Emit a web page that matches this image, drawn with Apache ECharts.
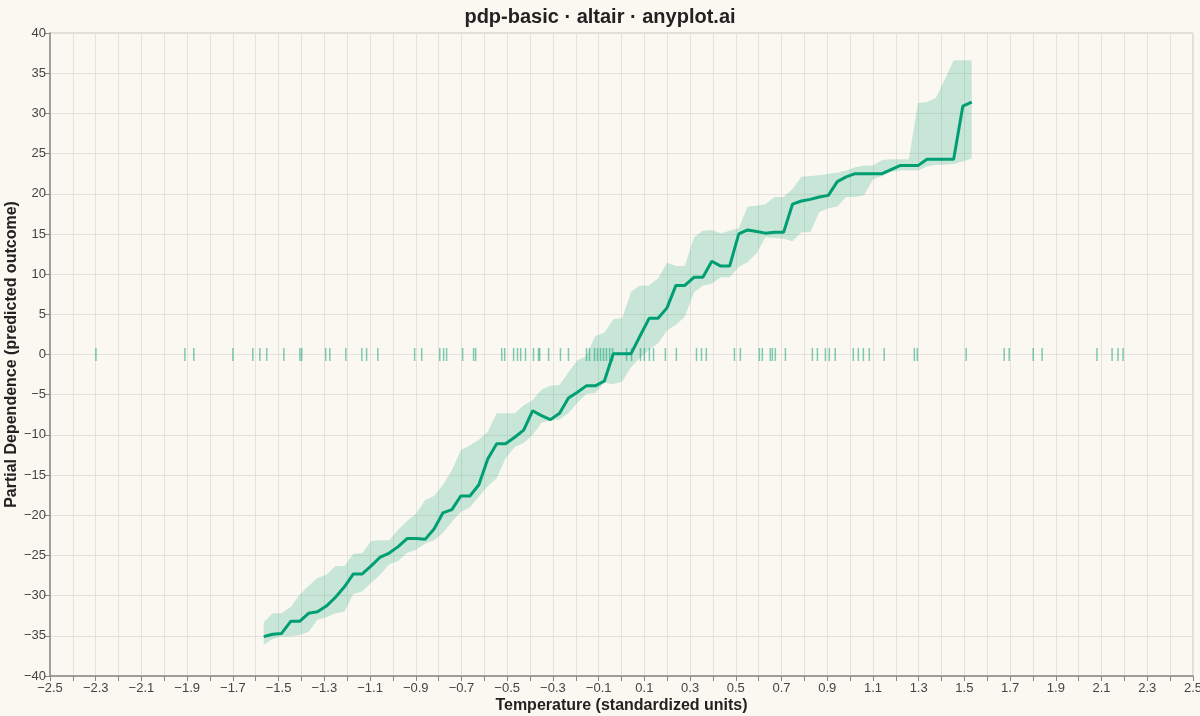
<!DOCTYPE html>
<html><head><meta charset="utf-8">
<script src="https://cdn.jsdelivr.net/npm/echarts@6/dist/echarts.min.js"></script>
<style>html,body{margin:0;padding:0;background:#FAF8F1}#c{width:1200px;height:716px}</style>
</head><body><div id="c"></div>
<script>
const gridX = [-1.565,-1.526,-1.487,-1.447,-1.408,-1.369,-1.330,-1.291,-1.251,-1.212,-1.173,-1.134,-1.095,-1.055,-1.016,-0.977,-0.938,-0.899,-0.859,-0.820,-0.781,-0.742,-0.703,-0.663,-0.624,-0.585,-0.546,-0.507,-0.467,-0.428,-0.389,-0.350,-0.311,-0.271,-0.232,-0.193,-0.154,-0.115,-0.075,-0.036,0.003,0.042,0.081,0.121,0.160,0.199,0.238,0.277,0.317,0.356,0.395,0.434,0.473,0.513,0.552,0.591,0.630,0.669,0.709,0.748,0.787,0.826,0.865,0.905,0.944,0.983,1.022,1.061,1.101,1.140,1.179,1.218,1.257,1.297,1.336,1.375,1.414,1.453,1.493,1.532];
const pdMean = [-35.1,-34.8,-34.7,-33.2,-33.2,-32.2,-32.0,-31.3,-30.2,-28.9,-27.3,-27.3,-26.3,-25.2,-24.7,-23.9,-22.9,-22.9,-23.0,-21.7,-19.7,-19.3,-17.6,-17.6,-16.2,-13.0,-11.1,-11.1,-10.3,-9.4,-7.0,-7.6,-8.1,-7.3,-5.4,-4.7,-3.9,-3.9,-3.3,0.1,0.1,0.1,2.3,4.5,4.5,5.8,8.6,8.6,9.6,9.6,11.6,11.0,11.0,15.0,15.5,15.3,15.1,15.2,15.2,18.7,19.1,19.3,19.6,19.8,21.5,22.1,22.5,22.5,22.5,22.5,23.0,23.5,23.5,23.5,24.3,24.3,24.3,24.3,30.9,31.4];
const pdUpper = [-33.3,-32.2,-32.2,-31.4,-29.9,-28.8,-27.8,-27.4,-26.3,-26.3,-24.8,-24.7,-23.2,-23.1,-23.1,-21.8,-20.7,-19.8,-18.1,-17.6,-16.2,-14.4,-11.9,-11.3,-10.6,-9.6,-7.3,-7.3,-7.3,-6.3,-5.7,-4.4,-3.9,-3.8,-2.2,-0.7,-0.2,2.3,2.7,4.4,4.5,7.8,8.6,8.6,9.5,11.4,11.0,11.0,14.6,15.4,15.5,15.1,15.4,15.7,18.4,18.5,18.7,19.6,19.6,20.6,22.1,22.2,22.3,22.5,22.6,22.9,23.3,23.5,23.5,24.2,24.3,24.3,24.3,31.3,31.4,31.9,34.2,36.6,36.6,36.6];
const pdLower = [-36.1,-35.4,-35.1,-35.1,-34.9,-34.5,-33.0,-32.7,-32.2,-32.0,-29.8,-29.5,-28.4,-27.4,-26.1,-25.7,-24.7,-24.3,-23.5,-23.1,-22.2,-20.8,-19.6,-19.0,-17.7,-16.4,-15.4,-12.9,-11.5,-11.0,-10.0,-8.5,-8.2,-8.1,-7.3,-6.0,-4.9,-4.8,-3.5,-3.7,-3.4,-1.6,-0.4,0.6,1.4,3.0,3.7,4.7,7.7,8.6,8.8,9.6,9.6,10.9,11.5,12.6,14.6,14.5,14.4,14.1,15.2,15.2,17.7,18.2,18.4,19.6,19.6,19.8,21.8,22.2,22.7,22.9,22.9,22.9,23.4,23.6,23.6,23.7,24.0,24.4];
const rugX = [-2.299,-1.910,-1.871,-1.700,-1.613,-1.582,-1.552,-1.477,-1.407,-1.399,-1.294,-1.276,-1.206,-1.136,-1.115,-1.066,-0.905,-0.874,-0.795,-0.778,-0.765,-0.695,-0.647,-0.638,-0.524,-0.511,-0.472,-0.455,-0.441,-0.420,-0.385,-0.363,-0.358,-0.319,-0.267,-0.232,-0.153,-0.140,-0.118,-0.105,-0.092,-0.079,-0.066,-0.052,-0.039,0.022,0.044,0.083,0.100,0.122,0.140,0.192,0.240,0.328,0.350,0.371,0.494,0.520,0.603,0.616,0.651,0.660,0.673,0.717,0.835,0.857,0.892,0.909,0.935,1.014,1.036,1.058,1.084,1.149,1.281,1.294,1.508,1.674,1.696,1.801,1.840,2.080,2.146,2.172,2.194];
const titleText = 'pdp-basic · altair · anyplot.ai';
const xName = 'Temperature (standardized units)';
const yName = 'Partial Dependence (predicted outcome)';

const green = '#009E73';
const fmt = v => (v < 0 ? '\u2212' : '') + Math.abs(v).toFixed(1);
const bandData = gridX.map((x, i) => [x, pdLower[i], pdUpper[i]]);
const chart = echarts.init(document.getElementById('c'));
chart.setOption({
  backgroundColor: '#FAF8F1',
  animation: false,
  title: { text: titleText, left: 'center', top: 2, textStyle: { fontFamily: 'Liberation Sans', fontSize: 20, fontWeight: 'bold', color: '#222' } },
  grid: { left: 50, right: 7, top: 33, bottom: 40, containLabel: false, outerBoundsMode: 'none', show: true, borderColor: '#c8c4bb', borderWidth: 1 },
  xAxis: {
    type: 'value', min: -2.5, max: 2.5, interval: 0.1,
    name: xName, nameLocation: 'middle', nameGap: 22, nameMoveOverlap: false,
    nameTextStyle: { fontFamily: 'Liberation Sans', fontSize: 16, fontWeight: 'bold', color: '#222' },
    axisLine: { onZero: false, lineStyle: { color: '#888', width: 1.5 } },
    axisTick: { show: true, inside: false, length: 5, lineStyle: { color: '#888' } },
    axisLabel: { fontFamily: 'Liberation Sans', fontSize: 13, color: '#444', margin: 6,
      formatter: v => (Math.abs(Math.round(v * 10)) % 2 === 1 ? fmt(v) : ''), showMinLabel: true, showMaxLabel: true },
    splitLine: { show: true, lineStyle: { color: '#e6e2d9', width: 1 } }
  },
  yAxis: {
    type: 'value', min: -40, max: 40, interval: 5,
    name: yName, nameLocation: 'middle', nameGap: 30, nameMoveOverlap: false,
    nameTextStyle: { fontFamily: 'Liberation Sans', fontSize: 16, fontWeight: 'bold', color: '#222' },
    axisLine: { show: true, onZero: false, lineStyle: { color: '#888', width: 1.5 } },
    axisTick: { show: true, inside: false, length: 5, lineStyle: { color: '#888' } },
    axisLabel: { fontFamily: 'Liberation Sans', fontSize: 13, color: '#444', margin: 4,
      formatter: v => (v < 0 ? '\u2212' : '') + Math.abs(v) },
    splitLine: { show: true, lineStyle: { color: '#e6e2d9', width: 1 } }
  },
  series: [
    { type: 'custom', silent: true, data: bandData, encode: { x: 0, y: [1, 2] },
      renderItem: (params, api) => {
        if (params.dataIndex !== 0) return null;
        const up = [], lo = [];
        for (let i = 0; i < bandData.length; i++) {
          up.push(api.coord([bandData[i][0], bandData[i][2]]));
          lo.push(api.coord([bandData[i][0], bandData[i][1]]));
        }
        return { type: 'polygon', shape: { points: up.concat(lo.reverse()) }, style: { fill: green, opacity: 0.2 } };
      } },
    { type: 'scatter', data: rugX.map(x => [x, 0]), symbol: 'rect', symbolSize: [1.5, 13], itemStyle: { color: green, opacity: 0.5 }, silent: true },
    { type: 'line', data: gridX.map((x, i) => [x, pdMean[i]]), symbol: 'none', lineStyle: { color: green, width: 3 } }
  ]
});
</script></body></html>
